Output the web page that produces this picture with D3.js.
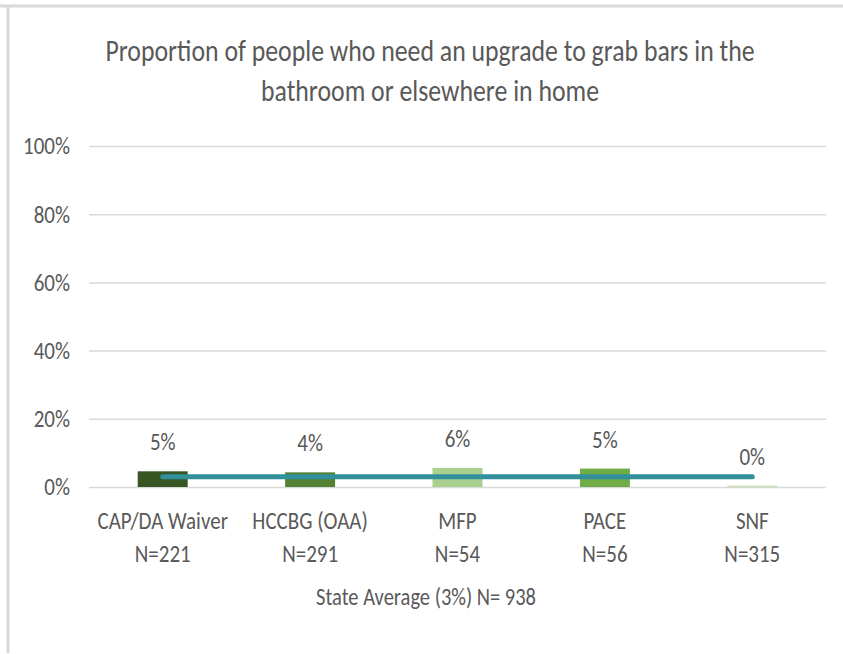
<!DOCTYPE html>
<html>
<head>
<meta charset="utf-8">
<script src="https://cdn.jsdelivr.net/npm/d3@7"></script>
<style>
  body { margin: 0; background: #fff; }
  svg text { font-family: Carlito, "Liberation Sans Narrow", "Open Sans", sans-serif; fill: #595959; }
</style>
</head>
<body>
<div id="chartContainer"></div>
<script>
// Chart data
const programs = ["CAP/DA Waiver", "HCCBG (OAA)", "MFP", "PACE", "SNF"];
const sampleSizes = ["N=221", "N=291", "N=54", "N=56", "N=315"];
const values = [4.6, 4.3, 5.6, 5.4, 0.4];
const barColors = ["#375623", "#548235", "#a9d08e", "#70ad47", "#c6e0b4"];
const stateAverage = 3;
const yTicks = [0, 20, 40, 60, 80, 100];
const titleLines = ["Proportion of people who need an upgrade to grab bars in the", "bathroom or elsewhere in home"];
const xTitle = "State Average (3%) N= 938";

const width = 843;
const height = 654;
const marginTop = 146;
const marginRight = 17;
const marginBottom = 167;
const marginLeft = 89;
const stretch = 1.18; // the original text looks vertically stretched

const data = programs.map((p, i) => ({program: p, n: sampleSizes[i], value: values[i], color: barColors[i]}));

const svg = d3.create("svg")
  .attr("width", width)
  .attr("height", height)
  .attr("viewBox", [0, 0, width, height]);

// chart frame (only top + left edges visible in the original)
svg.append("line")
  .attr("x1", 0).attr("x2", width).attr("y1", 6).attr("y2", 6)
  .attr("stroke", "#d9d9d9").attr("stroke-width", 3);
svg.append("line")
  .attr("x1", 8).attr("x2", 8).attr("y1", 5).attr("y2", 653)
  .attr("stroke", "#d9d9d9").attr("stroke-width", 3);

const x = d3.scaleBand(programs, [marginLeft, width - marginRight]);
const y = d3.scaleLinear([0, 100], [height - marginBottom, marginTop]);
const cx = p => x(p) + x.bandwidth() / 2;

// helper for stretched text
function label(g, tx, ty, size) {
  return g.append("text")
    .attr("transform", `translate(${tx},${ty}) scale(1,${stretch})`)
    .attr("text-anchor", "middle")
    .attr("font-size", size);
}

// y axis with grid lines
svg.append("g")
  .attr("transform", `translate(${marginLeft},0)`)
  .call(d3.axisLeft(y).tickValues(yTicks).tickFormat(d => d + "%").tickSize(0).tickPadding(19))
  .call(g => g.select(".domain").remove())
  .call(g => g.selectAll(".tick line").clone()
    .attr("x2", width - marginLeft - marginRight)
    .attr("stroke", "#d9d9d9")
    .attr("stroke-width", 1.5))
  .call(g => g.selectAll(".tick text")
    .attr("font-size", 21)
    .attr("font-family", null)
    .attr("transform", `scale(1,${stretch})`)
    .attr("fill", "#595959"));

// bars
const barWidth = 50;
svg.append("g")
  .selectAll("rect")
  .data(data)
  .join("rect")
    .attr("x", d => cx(d.program) - barWidth / 2)
    .attr("y", d => y(d.value))
    .attr("width", barWidth)
    .attr("height", d => y(0) - y(d.value))
    .attr("fill", d => d.color);

// state average line
const line = d3.line()
  .x(d => cx(d))
  .y(() => y(stateAverage));

svg.append("path")
  .attr("fill", "none")
  .attr("stroke", "#31909c")
  .attr("stroke-width", 5)
  .attr("stroke-linecap", "round")
  .attr("d", line(programs));

// value labels + category labels
const labels = svg.append("g");
data.forEach(d => {
  label(labels, cx(d.program), y(d.value) - 21, 21).text(Math.round(d.value) + "%");
  label(labels, cx(d.program), 529, 21).text(d.program);
  label(labels, cx(d.program), 562, 21).text(d.n);
});

// x axis title
label(svg, 426, 605, 20.5).text(xTitle);

// chart title
titleLines.forEach((t, i) => {
  label(svg, 430, 61 + i * 40, 25.8).text(t);
});

document.getElementById("chartContainer").append(svg.node());
</script>
</body>
</html>
